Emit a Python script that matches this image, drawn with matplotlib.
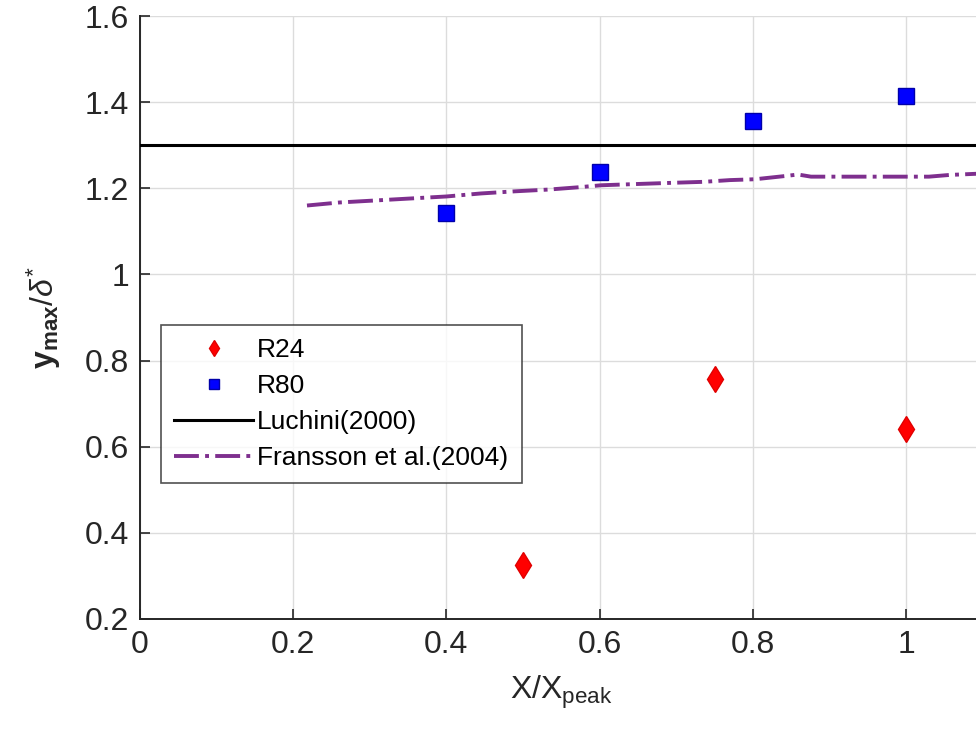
import numpy as np
import matplotlib
matplotlib.use('Agg')
import matplotlib.pyplot as plt

plt.rcParams['font.family'] = ['Liberation Sans', 'DejaVu Sans']
plt.rcParams['mathtext.fontset'] = 'custom'
plt.rcParams['mathtext.rm'] = 'Liberation Sans'
plt.rcParams['mathtext.it'] = 'Liberation Sans:italic'
plt.rcParams['mathtext.bf'] = 'Liberation Sans:bold'

# R24 case
r24_x = [0.5, 0.75, 1.0]
r24_y = [0.325, 0.757, 0.640]

# R80 case
r80_x = [0.4, 0.6, 0.8, 1.0]
r80_y = [1.143, 1.238, 1.356, 1.414]

# Luchini (2000) constant
luchini_y = 1.3

# Fransson et al. (2004) curve
fr_x = [0.218, 0.26, 0.30, 0.35, 0.40, 0.445, 0.49, 0.533, 0.57, 0.602, 0.65,
        0.70, 0.736, 0.77, 0.803, 0.824, 0.845, 0.859, 0.876, 0.92, 0.96, 1.0,
        1.03, 1.057, 1.096]
fr_y = [1.160, 1.167, 1.171, 1.176, 1.181, 1.188, 1.193, 1.197, 1.202, 1.207, 1.210,
        1.213, 1.215, 1.219, 1.221, 1.225, 1.229, 1.232, 1.227, 1.227, 1.227, 1.227,
        1.227, 1.231, 1.234]

fig = plt.figure(figsize=(9.76, 7.36), dpi=100)
ax_w = 1.1 * 766
ax = fig.add_axes([140/976, 117/736, ax_w/976, 603/736])

ax.plot(r24_x, r24_y, linestyle='', marker='d', color='#ff0000', markersize=13,
        markeredgecolor='#e00000', label='R24', zorder=4)
ax.plot(r80_x, r80_y, linestyle='', marker='s', color='#0000ff', markersize=11,
        markeredgecolor='#0000aa', label='R80', zorder=4)
ax.axhline(luchini_y, color='black', linewidth=2.2, label='Luchini(2000)', zorder=3)
ax.plot(fr_x, fr_y, linestyle='-.', color='#7e2f8e', linewidth=2.8,
        label='Fransson et al.(2004)', zorder=3)

ax.set_xlim(0, 1.1)
ax.set_ylim(0.2, 1.6)
ax.set_xticks([0, 0.2, 0.4, 0.6, 0.8, 1.0])
ax.set_xticklabels(['0', '0.2', '0.4', '0.6', '0.8', '1'])
ax.set_yticks([0.2, 0.4, 0.6, 0.8, 1.0, 1.2, 1.4, 1.6])
ax.set_yticklabels(['0.2', '0.4', '0.6', '0.8', '1', '1.2', '1.4', '1.6'])

ax.grid(True, color='#dcdcdc', linewidth=1)
ax.set_axisbelow(True)
ax.spines['top'].set_visible(False)
ax.spines['right'].set_visible(False)
for s in ['left', 'bottom']:
    ax.spines[s].set_linewidth(1.4)
    ax.spines[s].set_color('#262626')
ax.tick_params(direction='in', length=7, width=1.2, labelsize=23,
               colors='#262626', pad=8)

ax.set_xlabel(r'X/X$_{\mathrm{peak}}$', fontsize=23, color='#262626', labelpad=10)
ax.set_ylabel(r'$\mathbf{y_{max}}/\delta^{*}$', fontsize=23, color='#262626')
ax.yaxis.set_label_coords((63 - 140) / ax_w, 0.5)

leg = ax.legend(loc='upper left', bbox_to_anchor=(21 / ax_w, (619 - 325) / 603),
                fontsize=19, frameon=True, fancybox=False, edgecolor='#262626',
                handlelength=3.0, numpoints=1, borderpad=0.5, labelspacing=0.45,
                handletextpad=0.15, borderaxespad=0, markerscale=0.65)
leg.get_frame().set_linewidth(1.2)

fig.savefig('out.png', dpi=100)
